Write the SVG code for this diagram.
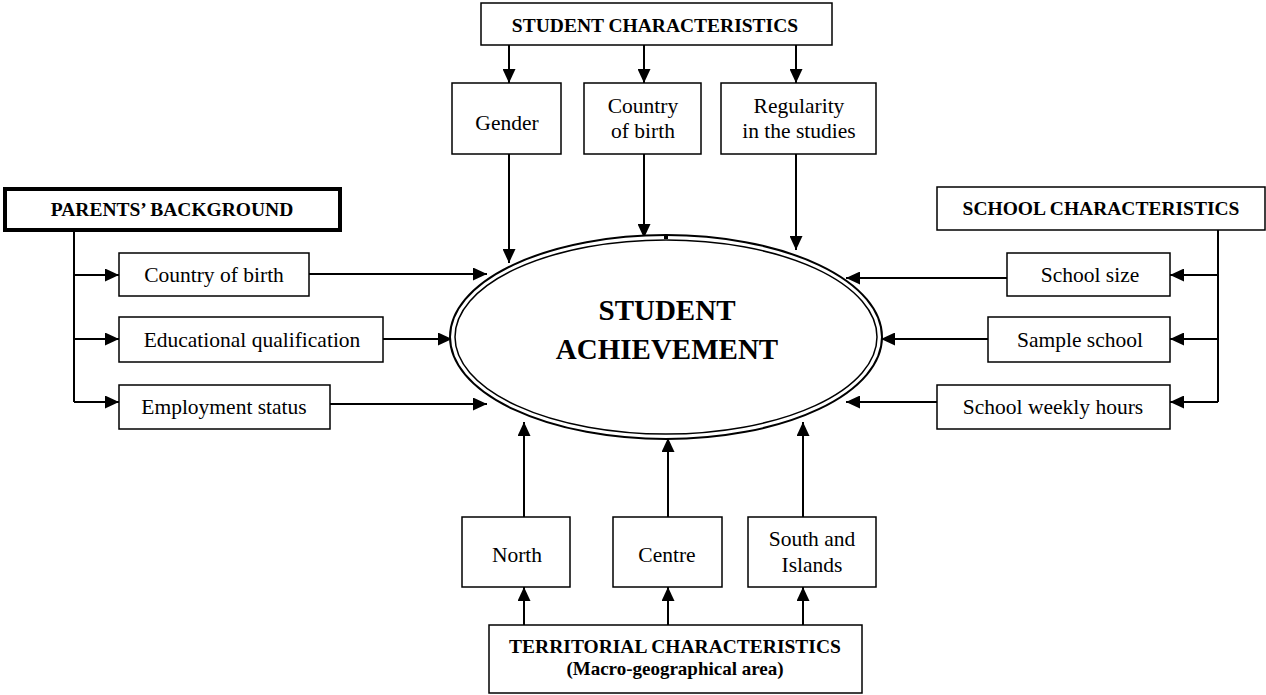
<svg xmlns="http://www.w3.org/2000/svg" width="1266" height="695" viewBox="0 0 1266 695">
  <defs>
    <marker id="arr" viewBox="0 0 14 13" refX="14" refY="6.5" markerWidth="14" markerHeight="13" markerUnits="userSpaceOnUse" orient="auto">
      <path d="M0,0 L14,6.5 L0,13 Z" fill="#000"/>
    </marker>
    <style>
      .box { fill: #fff; stroke: #000; stroke-width: 1.5; }
      .thick { fill: #fff; stroke: #000; stroke-width: 4; }
      .lbl { font-family: "Liberation Serif", "Times New Roman", serif; font-size: 21.5px; fill: #000; text-anchor: middle; }
      .hdr { font-family: "Liberation Serif", "Times New Roman", serif; font-size: 19.5px; font-weight: bold; fill: #000; text-anchor: middle; }
      .sub { font-family: "Liberation Serif", "Times New Roman", serif; font-size: 19px; font-weight: bold; fill: #000; text-anchor: middle; }
      .big { font-family: "Liberation Serif", "Times New Roman", serif; font-size: 29px; font-weight: bold; fill: #000; text-anchor: middle; }
      .ln { fill: none; stroke: #000; stroke-width: 2; }
      .ar { fill: none; stroke: #000; stroke-width: 2; marker-end: url(#arr); }
    </style>
  </defs>
  <rect width="1266" height="695" fill="#fff"/>

  <!-- connectors -->
  <g id="connectors">
    <!-- student characteristics -->
    <line class="ar" x1="509" y1="45" x2="509" y2="83"/>
    <line class="ar" x1="644" y1="45" x2="644" y2="83"/>
    <line class="ar" x1="796" y1="45" x2="796" y2="83"/>
    <line class="ar" x1="509" y1="154" x2="509" y2="263"/>
    <line class="ar" x1="644" y1="154" x2="644" y2="238"/>
    <line class="ar" x1="796" y1="154" x2="796" y2="250"/>
    <!-- parents' background -->
    <polyline class="ln" points="74,231 74,402"/>
    <line class="ar" x1="74" y1="275" x2="119" y2="275"/>
    <line class="ar" x1="74" y1="339" x2="119" y2="339"/>
    <line class="ar" x1="74" y1="402" x2="119" y2="402"/>
    <line class="ar" x1="309" y1="274" x2="487" y2="274"/>
    <line class="ar" x1="383" y1="339" x2="452" y2="339"/>
    <line class="ar" x1="330" y1="404" x2="487" y2="404"/>
    <!-- school characteristics -->
    <polyline class="ln" points="1218,230 1218,402"/>
    <line class="ar" x1="1218" y1="275" x2="1170" y2="275"/>
    <line class="ar" x1="1218" y1="339" x2="1170" y2="339"/>
    <line class="ar" x1="1218" y1="402" x2="1170" y2="402"/>
    <line class="ar" x1="1007" y1="278" x2="846" y2="278"/>
    <line class="ar" x1="988" y1="339" x2="881" y2="339"/>
    <line class="ar" x1="937" y1="402" x2="846" y2="402"/>
    <!-- territorial characteristics -->
    <line class="ar" x1="524" y1="625" x2="524" y2="587"/>
    <line class="ar" x1="668" y1="625" x2="668" y2="587"/>
    <line class="ar" x1="803" y1="625" x2="803" y2="587"/>
    <line class="ar" x1="524" y1="517" x2="524" y2="422"/>
    <line class="ar" x1="668" y1="517" x2="668" y2="438"/>
    <line class="ar" x1="803" y1="517" x2="803" y2="422"/>
  </g>

  <!-- central outcome -->
  <g id="achievement">
    <ellipse cx="666" cy="337" rx="216" ry="102" fill="#fff" stroke="#000" stroke-width="2"/>
    <ellipse cx="666" cy="337" rx="211" ry="97" fill="none" stroke="#000" stroke-width="1.5"/>
    <rect x="664" y="236" width="4" height="3" fill="#000"/>
    <text class="big" x="667" y="320">STUDENT</text>
    <text class="big" x="667" y="359">ACHIEVEMENT</text>
  </g>

  <!-- student characteristics -->
  <g id="student-characteristics">
    <rect class="box" x="481" y="3" width="351" height="42"/>
    <text class="hdr" x="655" y="32">STUDENT CHARACTERISTICS</text>
  </g>
  <g id="gender">
    <rect class="box" x="452" y="83" width="109" height="71"/>
    <text class="lbl" x="507" y="130">Gender</text>
  </g>
  <g id="student-country">
    <rect class="box" x="584" y="83" width="117" height="71"/>
    <text class="lbl" x="643" y="113">Country</text>
    <text class="lbl" x="643" y="138">of birth</text>
  </g>
  <g id="regularity">
    <rect class="box" x="721" y="83" width="155" height="71"/>
    <text class="lbl" x="799" y="113">Regularity</text>
    <text class="lbl" x="799" y="138">in the studies</text>
  </g>

  <!-- parents' background -->
  <g id="parents-background">
    <rect class="thick" x="5" y="189" width="335" height="41"/>
    <text class="hdr" x="172" y="216">PARENTS’ BACKGROUND</text>
  </g>
  <g id="parent-country">
    <rect class="box" x="119" y="253" width="190" height="43"/>
    <text class="lbl" x="214" y="282">Country of birth</text>
  </g>
  <g id="education">
    <rect class="box" x="119" y="317" width="264" height="45"/>
    <text class="lbl" x="252" y="347">Educational qualification</text>
  </g>
  <g id="employment">
    <rect class="box" x="119" y="385" width="211" height="44"/>
    <text class="lbl" x="224" y="414">Employment status</text>
  </g>

  <!-- school characteristics -->
  <g id="school-characteristics">
    <rect class="box" x="937" y="187" width="328" height="43"/>
    <text class="hdr" x="1101" y="215">SCHOOL CHARACTERISTICS</text>
  </g>
  <g id="school-size">
    <rect class="box" x="1007" y="253" width="163" height="43"/>
    <text class="lbl" x="1090" y="282">School size</text>
  </g>
  <g id="sample-school">
    <rect class="box" x="988" y="317" width="182" height="45"/>
    <text class="lbl" x="1080" y="347">Sample school</text>
  </g>
  <g id="weekly-hours">
    <rect class="box" x="937" y="385" width="233" height="44"/>
    <text class="lbl" x="1053" y="414">School weekly hours</text>
  </g>

  <!-- territorial characteristics -->
  <g id="north">
    <rect class="box" x="462" y="517" width="108" height="70"/>
    <text class="lbl" x="517" y="562">North</text>
  </g>
  <g id="centre">
    <rect class="box" x="613" y="517" width="109" height="70"/>
    <text class="lbl" x="667" y="562">Centre</text>
  </g>
  <g id="south">
    <rect class="box" x="748" y="517" width="128" height="70"/>
    <text class="lbl" x="812" y="546">South and</text>
    <text class="lbl" x="812" y="572">Islands</text>
  </g>
  <g id="territorial-characteristics">
    <rect class="box" x="489" y="625" width="373" height="68"/>
    <text class="hdr" x="675" y="653">TERRITORIAL CHARACTERISTICS</text>
    <text class="sub" x="675" y="675">(Macro-geographical area)</text>
  </g>
</svg>
